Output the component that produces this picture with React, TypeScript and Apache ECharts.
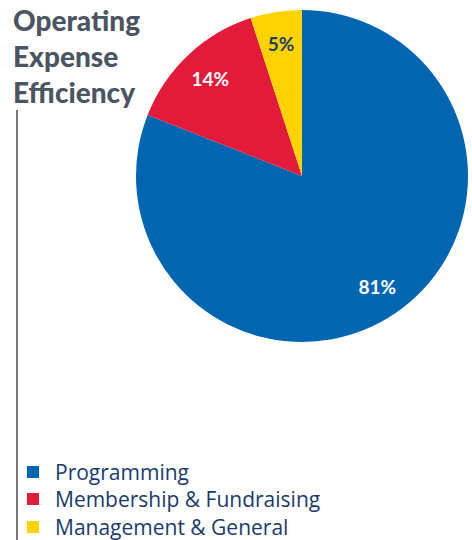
import React, { useEffect, useRef } from "react";
import * as echarts from "echarts";

const categories = ["Programming", "Membership & Fundraising", "Management & General"];
const values = [81, 14, 5];
const colors = ["#0066b2", "#e31b3b", "#ffd200"];
const labelColors = ["#ffffff", "#ffffff", "#1c3f6e"];
const titleLines = ["Operating", "Expense", "Efficiency"];

export default function App() {
  const ref = useRef<HTMLDivElement>(null);
  useEffect(() => {
    const chart = echarts.init(ref.current!, undefined, { renderer: "svg" });
    const data = categories.map((name, i) => ({
      name,
      value: values[i],
      itemStyle: { color: colors[i] },
    }));
    const legendTops = [456, 483, 511];
    chart.setOption({
      animation: false,
      title: {
        text: titleLines.join("\n"),
        left: 8,
        top: -3,
        textStyle: {
          fontFamily: "Lato",
          fontWeight: 900,
          fontSize: 28,
          lineHeight: 36,
          color: "#4b5561",
        },
      },
      legend: categories.map((name, i) => ({
        orient: "vertical",
        left: 22,
        top: legendTops[i],
        itemWidth: 12,
        itemHeight: 12,
        icon: "rect",
        selectedMode: false,
        data: [{ name, itemStyle: { color: colors[i] } }],
        textStyle: {
          fontFamily: "Open Sans",
          fontSize: 21,
          lineHeight: 22,
          color: "#1b3a6b",
          padding: [0, 0, 0, 11],
        },
      })),
      graphic: [
        {
          type: "line",
          shape: { x1: 17, y1: 110, x2: 17, y2: 540 },
          style: { stroke: "#444a50", lineWidth: 1.5 },
        },
      ],
      series: [
        {
          type: "pie",
          center: [302, 176],
          radius: [0, 166],
          startAngle: 90,
          clockwise: true,
          label: { show: false },
          labelLine: { show: false },
          silent: true,
          data,
        },
        {
          type: "pie",
          center: [302, 176],
          radius: [96, 166],
          startAngle: 90,
          clockwise: true,
          silent: true,
          legendHoverLink: false,
          itemStyle: { color: "rgba(0,0,0,0)" },
          labelLine: { show: false },
          data: categories.map((name, i) => ({
            name,
            value: values[i],
            itemStyle: { color: "rgba(0,0,0,0)" },
            label: {
              show: true,
              position: "inside",
              formatter: "{c}%",
              color: labelColors[i],
              fontFamily: "Lato",
              fontWeight: "bold",
              fontSize: 19,
            },
          })),
        },
      ],
    });
    return () => chart.dispose();
  }, []);
  return (
    <div
      ref={ref}
      style={{ position: "absolute", left: 0, top: 0, width: 472, height: 540 }}
    />
  );
}
